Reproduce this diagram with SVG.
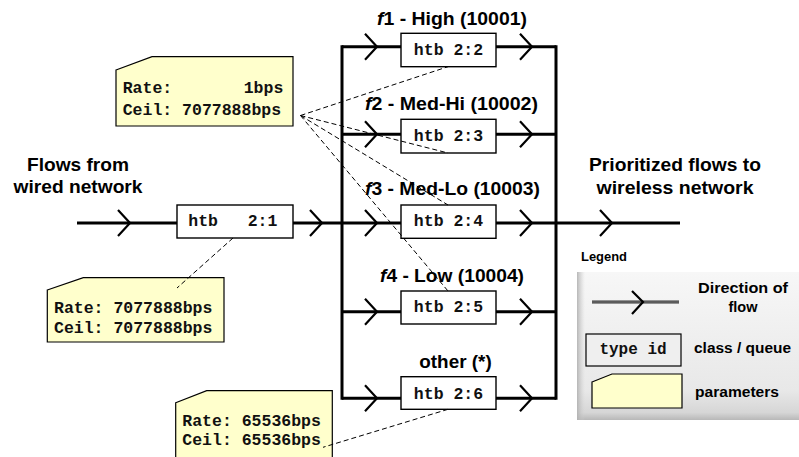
<svg xmlns="http://www.w3.org/2000/svg" width="799" height="457" viewBox="0 0 799 457">
  <defs>
    <linearGradient id="panelFill" x1="0" y1="0" x2="0" y2="1">
      <stop offset="0" stop-color="#f7f7f7"/>
      <stop offset="0.8" stop-color="#e8e8e8"/>
      <stop offset="0.95" stop-color="#d6d6d6"/>
      <stop offset="1" stop-color="#b8b8b8"/>
    </linearGradient>
    <linearGradient id="panelEdge" x1="0" y1="0" x2="1" y2="0">
      <stop offset="0" stop-color="#b0b0b0" stop-opacity="0.9"/>
      <stop offset="1" stop-color="#d0d0d0" stop-opacity="0"/>
    </linearGradient>
  </defs>
  <style>
    .flow { stroke: #000; stroke-width: 3; fill: none; }
    .chev { stroke: #000; stroke-width: 2.2; fill: none; stroke-linejoin: miter; }
    .dash { stroke: #000; stroke-width: 1; fill: none; stroke-dasharray: 5 3; }
    .box { fill: #fff; stroke: #000; stroke-width: 1.4; }
    .note { fill: #ffffcc; stroke: #000; stroke-width: 1.2; }
    .mono { font-family: "Liberation Mono", "Courier New", monospace; font-weight: bold; font-size: 16.5px; fill: #111; }
    .lbl { font-family: "Liberation Sans", Arial, sans-serif; font-weight: bold; font-size: 18px; fill: #000; }
    .leg { font-family: "Liberation Sans", Arial, sans-serif; font-weight: bold; font-size: 14.5px; fill: #000; }
  </style>

  <rect width="799" height="457" fill="#fff"/>

  <!-- legend panel -->
  <g id="legend">
    <rect x="577" y="272" width="222" height="148" fill="url(#panelFill)"/>
    <rect x="577" y="272" width="8" height="148" fill="url(#panelEdge)"/>
    <text class="lbl" x="581" y="261" style="font-size:12.5px" textLength="46" lengthAdjust="spacingAndGlyphs">Legend</text>
    <line x1="592" y1="302" x2="679" y2="302" stroke="#333" stroke-width="3"/>
    <line x1="592" y1="302" x2="679" y2="302" stroke="#999" stroke-width="0.8"/>
    <polyline class="chev" points="632,291 643,302 632,314" stroke-width="2.6"/>
    <text class="leg" x="743" y="293" text-anchor="middle" textLength="90" lengthAdjust="spacingAndGlyphs">Direction of</text>
    <text class="leg" x="743" y="312" text-anchor="middle">flow</text>
    <rect x="586" y="334" width="95" height="32" fill="#efefef" stroke="#000" stroke-width="1.2"/>
    <text class="mono" x="633" y="354" text-anchor="middle" style="font-size:16px">type id</text>
    <text class="leg" x="694" y="353" textLength="97" lengthAdjust="spacingAndGlyphs">class / queue</text>
    <path class="note" d="M592,382 L612,374 L682,374 L682,408 L592,408 Z"/>
    <text class="leg" x="695" y="397" textLength="84" lengthAdjust="spacingAndGlyphs">parameters</text>
  </g>

  <!-- side captions -->
  <g id="source">
    <text class="lbl" x="78" y="171" text-anchor="middle" textLength="102" lengthAdjust="spacingAndGlyphs">Flows from</text>
    <text class="lbl" x="78" y="193" text-anchor="middle" textLength="129" lengthAdjust="spacingAndGlyphs">wired network</text>
  </g>
  <g id="sink">
    <text class="lbl" x="675" y="171" text-anchor="middle" textLength="172" lengthAdjust="spacingAndGlyphs">Prioritized flows to</text>
    <text class="lbl" x="675" y="194" text-anchor="middle" textLength="157" lengthAdjust="spacingAndGlyphs">wireless network</text>
  </g>

  <!-- flow lines, bus and chevrons -->
  <g id="connectors">
    <!-- incoming flow -->
    <line class="flow" x1="77" y1="223" x2="177" y2="223"/>
    <line class="flow" x1="293" y1="223" x2="342" y2="223"/>
    <polyline class="chev" points="118,210 130,223 118,236"/>
    <polyline class="chev" points="310,210 322,223 310,236"/>
    <!-- left and right bus -->
    <line class="flow" x1="342" y1="45.2" x2="342" y2="399.8"/>
    <line class="flow" x1="556" y1="45.2" x2="556" y2="399.8"/>
    <!-- branch lines -->
    <path class="flow" d="M342,46.7 H401 M496,46.7 H556"/>
    <path class="flow" d="M342,134.3 H401 M496,134.3 H556"/>
    <path class="flow" d="M342,223 H401 M496,223 H556"/>
    <path class="flow" d="M342,311.7 H401 M496,311.7 H556"/>
    <path class="flow" d="M342,398.3 H401 M496,398.3 H556"/>
    <polyline class="chev" points="365,33.7 377,46.7 365,59.7"/>
    <polyline class="chev" points="520,33.7 532,46.7 520,59.7"/>
    <polyline class="chev" points="365,121.3 377,134.3 365,147.3"/>
    <polyline class="chev" points="520,121.3 532,134.3 520,147.3"/>
    <polyline class="chev" points="365,210 377,223 365,236"/>
    <polyline class="chev" points="520,210 532,223 520,236"/>
    <polyline class="chev" points="365,298.7 377,311.7 365,324.7"/>
    <polyline class="chev" points="520,298.7 532,311.7 520,324.7"/>
    <polyline class="chev" points="365,385.3 377,398.3 365,411.3"/>
    <polyline class="chev" points="520,385.3 532,398.3 520,411.3"/>
    <!-- outgoing flow -->
    <line class="flow" x1="556" y1="223" x2="680" y2="223"/>
    <polyline class="chev" points="600,210 612,223 600,236"/>
  </g>

  <!-- parameter notes -->
  <g id="note-leaf-classes">
    <path class="note" d="M116,70 L152,56.7 L293,56.7 L293,126 L116,126 Z"/>
    <text class="mono" x="122.7" y="93.3">Rate:</text>
    <text class="mono" x="283.3" y="93.3" text-anchor="end">1bps</text>
    <text class="mono" x="122.7" y="115">Ceil: 7077888bps</text>
  </g>
  <g id="note-root-class">
    <path class="note" d="M47.3,290 L83.3,277.7 L224,277.7 L224,342 L47.3,342 Z"/>
    <text class="mono" x="54" y="313.3">Rate: 7077888bps</text>
    <text class="mono" x="54" y="332.7">Ceil: 7077888bps</text>
  </g>
  <g id="note-default-class">
    <path class="note" d="M175.7,402.7 L206.7,390.7 L332.3,390.7 L332.3,470 L175.7,470 Z"/>
    <text class="mono" x="182.3" y="425.7">Rate: 65536bps</text>
    <text class="mono" x="182.3" y="445">Ceil: 65536bps</text>
  </g>

  <!-- classes -->
  <g id="class-2-1">
    <rect class="box" x="177" y="205" width="116" height="33"/>
    <text class="mono" x="188.3" y="226" xml:space="preserve">htb   2:1</text>
  </g>
  <g id="class-2-2">
    <text class="lbl" x="377" y="25" textLength="150" lengthAdjust="spacingAndGlyphs"><tspan font-style="italic">f</tspan>1 - High (10001)</text>
    <rect class="box" x="401" y="33.3" width="95" height="33.4"/>
    <text class="mono" x="448.5" y="55" text-anchor="middle">htb 2:2</text>
  </g>
  <g id="class-2-3">
    <text class="lbl" x="365" y="110" textLength="173" lengthAdjust="spacingAndGlyphs"><tspan font-style="italic">f</tspan>2 - Med-Hi (10002)</text>
    <rect class="box" x="401" y="119.3" width="95" height="33.7"/>
    <text class="mono" x="448.5" y="140.5" text-anchor="middle">htb 2:3</text>
  </g>
  <g id="class-2-4">
    <text class="lbl" x="365" y="195" textLength="175" lengthAdjust="spacingAndGlyphs"><tspan font-style="italic">f</tspan>3 - Med-Lo (10003)</text>
    <rect class="box" x="401" y="205" width="95" height="33.3"/>
    <text class="mono" x="448.5" y="226" text-anchor="middle">htb 2:4</text>
  </g>
  <g id="class-2-5">
    <text class="lbl" x="380" y="281.7" textLength="144" lengthAdjust="spacingAndGlyphs"><tspan font-style="italic">f</tspan>4 - Low (10004)</text>
    <rect class="box" x="401" y="291" width="95" height="33"/>
    <text class="mono" x="448.5" y="312" text-anchor="middle">htb 2:5</text>
  </g>
  <g id="class-2-6">
    <text class="lbl" x="419.3" y="368.3" textLength="72.4" lengthAdjust="spacingAndGlyphs">other (*)</text>
    <rect class="box" x="401" y="376.7" width="95" height="32.6"/>
    <text class="mono" x="448.5" y="398.5" text-anchor="middle">htb 2:6</text>
  </g>

  <!-- dashed callouts from notes to classes -->
  <g id="callouts">
    <line class="dash" x1="300.5" y1="115.5" x2="448" y2="66.7"/>
    <line class="dash" x1="300.5" y1="115.5" x2="448" y2="153"/>
    <line class="dash" x1="300.5" y1="115.5" x2="448" y2="205"/>
    <line class="dash" x1="300.5" y1="115.5" x2="448" y2="291"/>
    <line class="dash" x1="233" y1="238" x2="177" y2="288"/>
    <line class="dash" x1="448" y1="409.3" x2="323" y2="447.3"/>
  </g>
</svg>
